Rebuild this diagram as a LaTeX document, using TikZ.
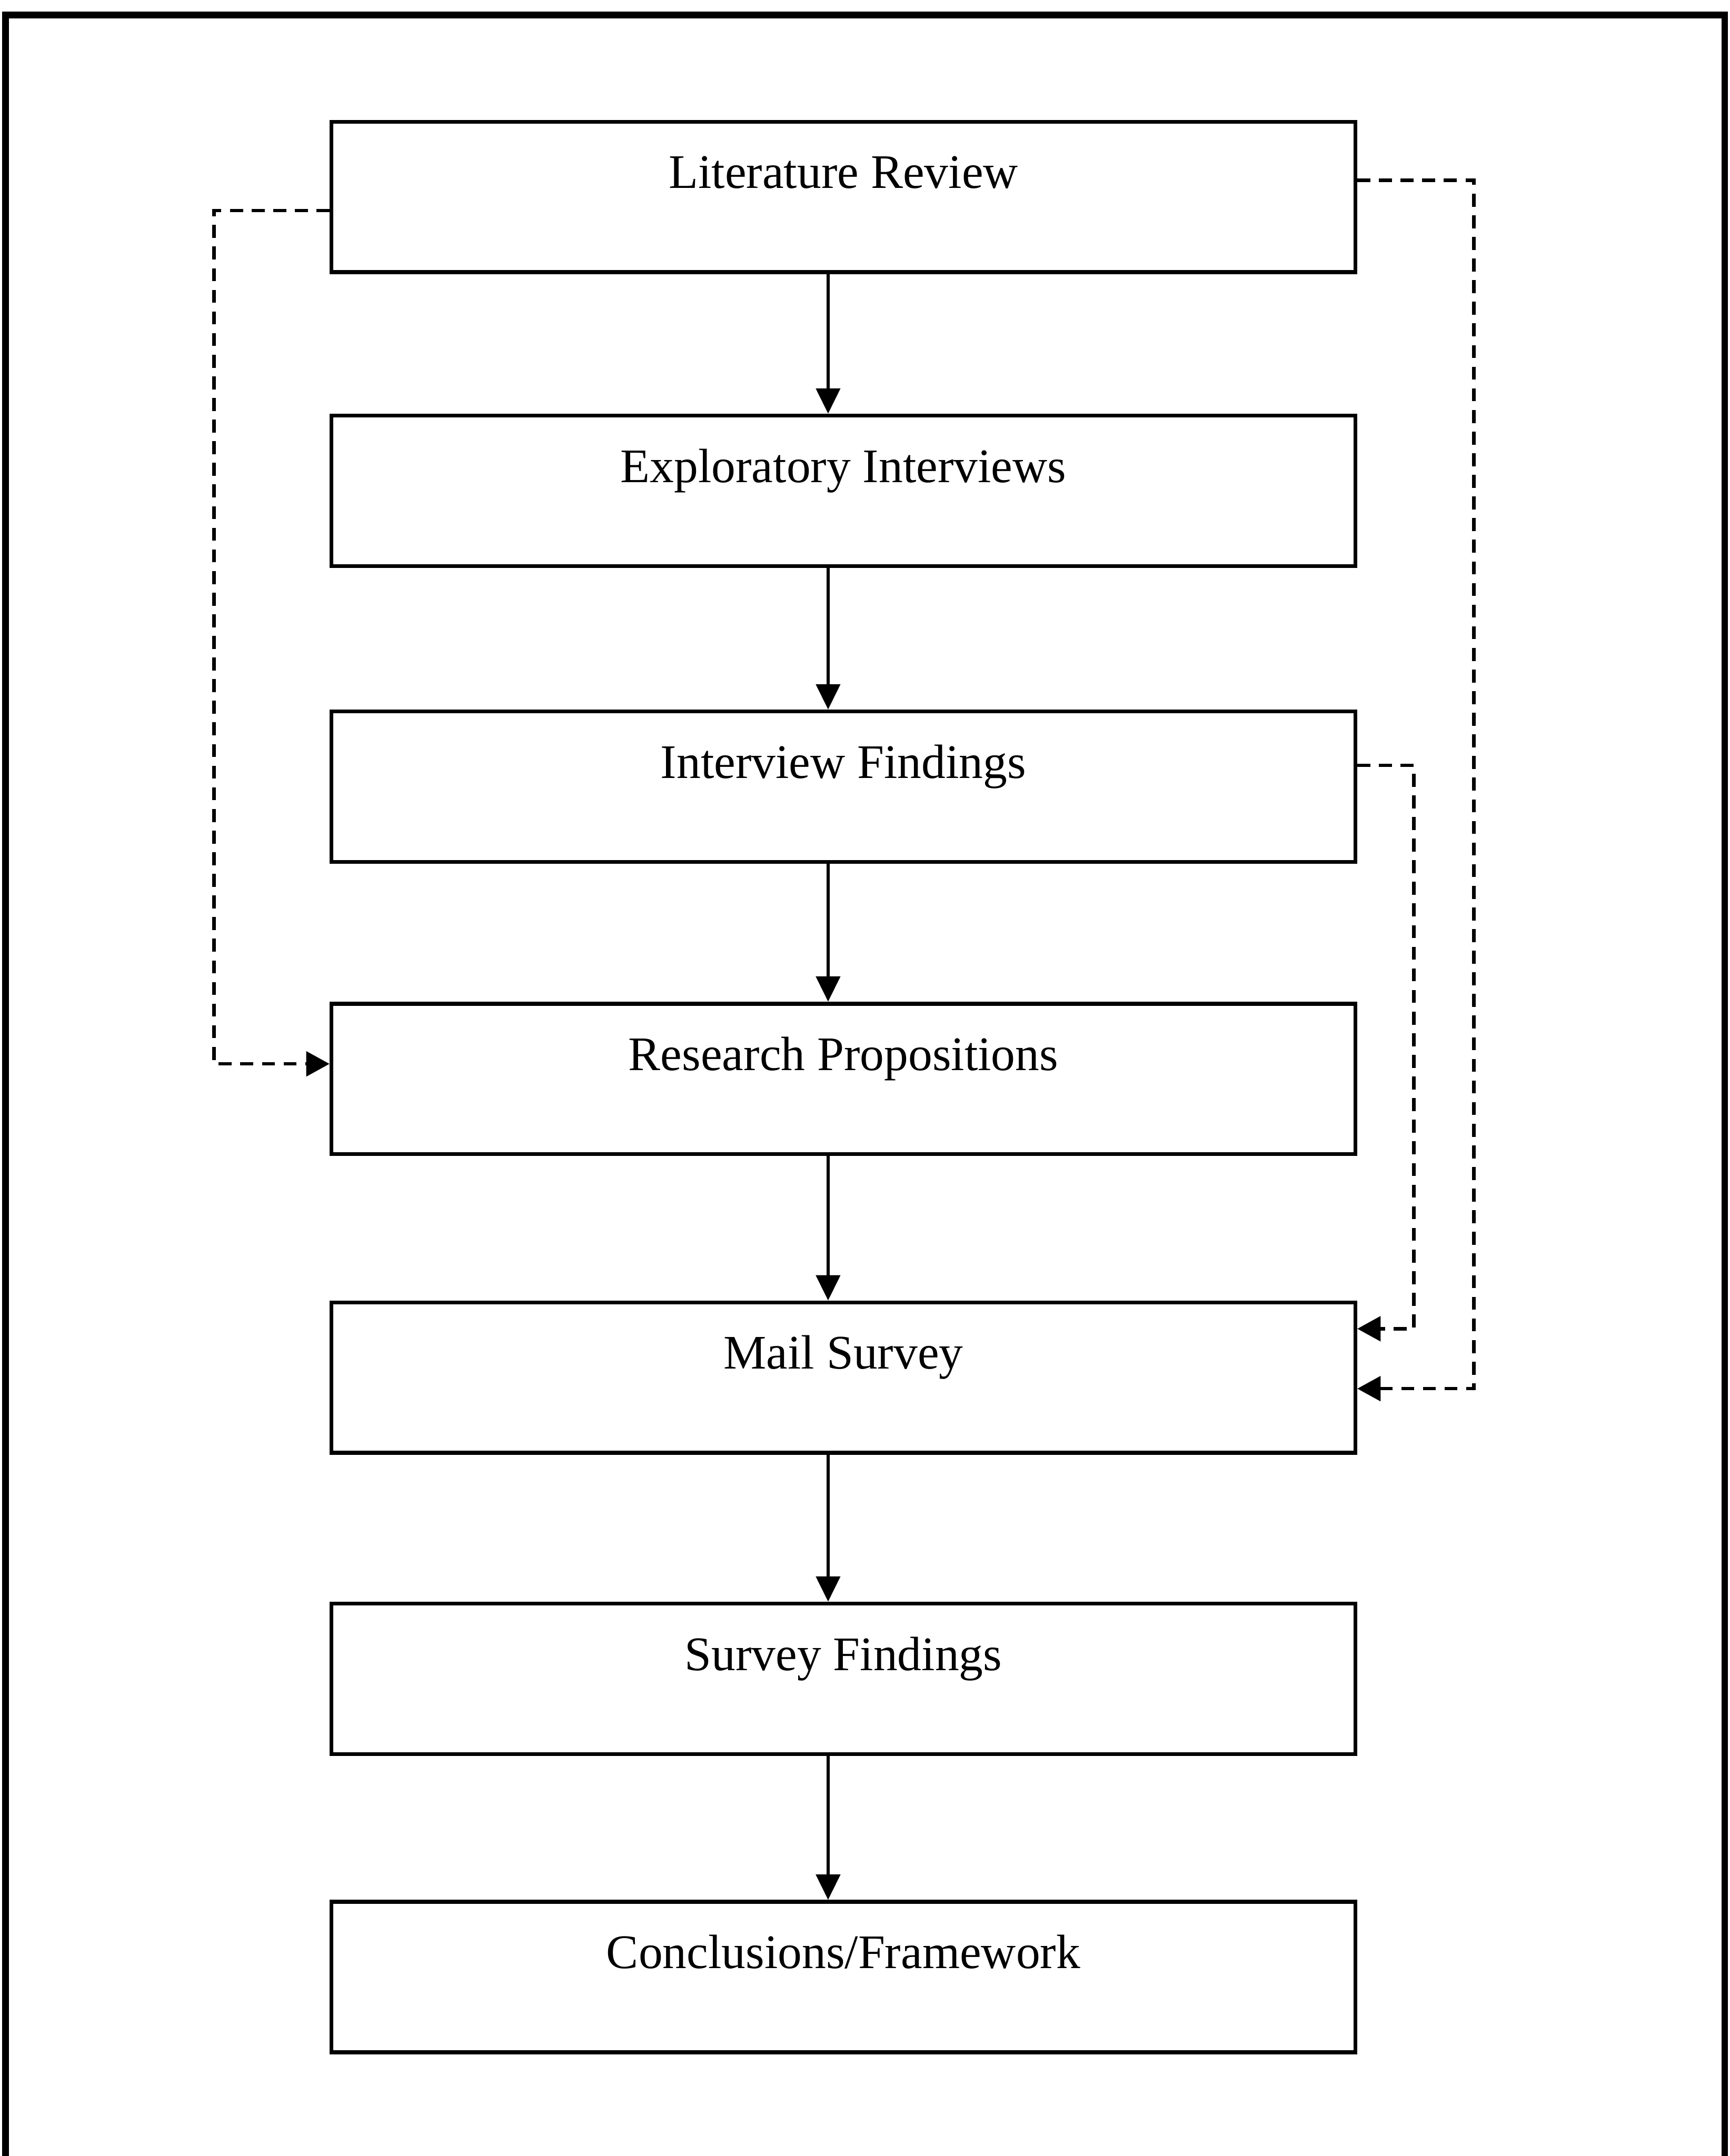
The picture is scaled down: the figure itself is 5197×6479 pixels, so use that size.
\documentclass[tikz,border=0pt]{standalone}
\usepackage{fontspec}
\setmainfont{Liberation Serif}
\usetikzlibrary{arrows.meta}
\begin{document}
\begin{tikzpicture}[x=0.1mm, y=-0.1mm,
  stagebox/.style={draw, line width=1.2mm, rectangle, inner sep=0pt,
    minimum width=307.6mm, minimum height=45.2mm,
    text height=11mm, text depth=16.2mm, anchor=north,
    font=\fontsize{41.2}{49}\selectfont},
  flowarrow/.style={line width=1.0mm, -{Triangle[length=7.6mm, width=7.2mm]}},
  feedback/.style={line width=1.0mm, dash pattern=on 3.9mm off 2.6mm,
    -{Triangle[length=7.0mm, width=7.4mm]}},
  frameline/.style={line width=2mm}
]
\useasboundingbox (0,0) rectangle (5197,6479);
\clip (0,0) rectangle (5197,6479);

% outer frame
\draw[frameline] (17,6500) -- (17,45) -- (5182,45) -- (5182,6500) -- cycle;

% stages
\node[stagebox] (b1) at (2534,360)  {Literature Review};
\node[stagebox] (b2) at (2534,1243) {Exploratory Interviews};
\node[stagebox] (b3) at (2534,2132) {Interview Findings};
\node[stagebox] (b4) at (2534,3010) {Research Propositions};
\node[stagebox] (b5) at (2534,3908) {Mail Survey};
\node[stagebox] (b6) at (2534,4813) {Survey Findings};
\node[stagebox] (b7) at (2534,5709) {Conclusions/Framework};

% main sequence
\coordinate (spine) at (2488,0);
\draw[flowarrow] (b1.south -| spine) -- (b2.north -| spine);
\draw[flowarrow] (b2.south -| spine) -- (b3.north -| spine);
\draw[flowarrow] (b3.south -| spine) -- (b4.north -| spine);
\draw[flowarrow] (b4.south -| spine) -- (b5.north -| spine);
\draw[flowarrow] (b5.south -| spine) -- (b6.north -| spine);
\draw[flowarrow] (b6.south -| spine) -- (b7.north -| spine);

% feedback routes
\coordinate (lt) at (643,633);
\coordinate (lb) at (643,3197);
\draw[feedback] (b1.west |- lt) -- (lt) -- (lb) -- (b4.west |- lb);

\coordinate (rat) at (4428,542);
\coordinate (rab) at (4428,4173);
\draw[feedback] (b1.east |- rat) -- (rat) -- (rab) -- (b5.east |- rab);

\coordinate (rbt) at (4248,2300);
\coordinate (rbb) at (4248,3993);
\draw[feedback] (b3.east |- rbt) -- (rbt) -- (rbb) -- (b5.east |- rbb);
\end{tikzpicture}
\end{document}
